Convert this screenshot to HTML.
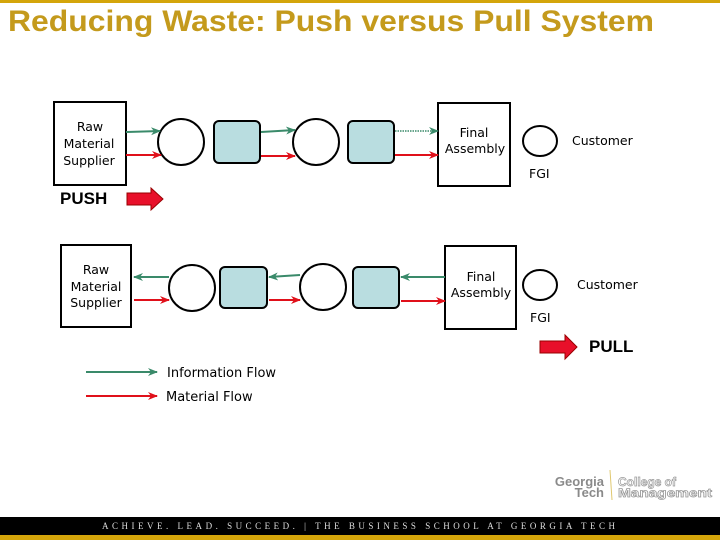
<!DOCTYPE html>
<html><head><meta charset="utf-8"><style>
html,body{margin:0;padding:0;width:720px;height:540px;overflow:hidden;background:#fff}
svg{display:block}
</style></head><body>
<svg width="720" height="540" viewBox="0 0 720 540" xmlns="http://www.w3.org/2000/svg" font-family="Verdana, 'DejaVu Sans', sans-serif">
<defs>
<marker id="g" markerWidth="10" markerHeight="8" refX="9" refY="4" orient="auto" markerUnits="userSpaceOnUse"><path d="M0,0 L10,4 L0,8 L3,4 Z" fill="#3a8a6a"/></marker>
<marker id="r" markerWidth="10" markerHeight="8" refX="9" refY="4" orient="auto" markerUnits="userSpaceOnUse"><path d="M0,0 L10,4 L0,8 L3,4 Z" fill="#e0101a"/></marker>
</defs>
<rect x="0" y="0" width="720" height="3" fill="#d4a50a"/>
<text x="8" y="31" font-family="'Liberation Sans',Arial,sans-serif" font-weight="bold" font-size="30" fill="#c49a1c" textLength="646" lengthAdjust="spacingAndGlyphs">Reducing Waste: Push versus Pull System</text>

<!-- PUSH row -->
<rect x="54" y="102" width="72" height="83" fill="#fff" stroke="#000" stroke-width="2"/>
<text font-size="12.5" text-anchor="middle"><tspan x="90" y="131">Raw</tspan><tspan x="89" y="148">Material</tspan><tspan x="89" y="165">Supplier</tspan></text>
<circle cx="181" cy="142" r="23" fill="#fff" stroke="#000" stroke-width="2"/>
<rect x="214" y="121" width="46" height="42" rx="5" fill="#b9dde0" stroke="#000" stroke-width="2"/>
<circle cx="316" cy="142" r="23" fill="#fff" stroke="#000" stroke-width="2"/>
<rect x="348" y="121" width="46" height="42" rx="5" fill="#b9dde0" stroke="#000" stroke-width="2"/>
<rect x="438" y="103" width="72" height="83" fill="#fff" stroke="#000" stroke-width="2"/>
<text font-size="12.5" text-anchor="middle"><tspan x="474" y="137">Final</tspan><tspan x="475" y="153">Assembly</tspan></text>
<ellipse cx="540" cy="141" rx="17" ry="15" fill="#fff" stroke="#000" stroke-width="2"/>
<text x="572" y="145" font-size="12.5">Customer</text>
<text x="529" y="178" font-size="12.5">FGI</text>
<line x1="126" y1="132" x2="160" y2="131" stroke="#3a8a6a" stroke-width="2" marker-end="url(#g)"/>
<line x1="126" y1="155" x2="161" y2="155" stroke="#e0101a" stroke-width="2" marker-end="url(#r)"/>
<line x1="261" y1="132" x2="295" y2="130" stroke="#3a8a6a" stroke-width="2" marker-end="url(#g)"/>
<line x1="261" y1="156" x2="295" y2="156" stroke="#e0101a" stroke-width="2" marker-end="url(#r)"/>
<line x1="395" y1="131" x2="438" y2="131" stroke="#3a8a6a" stroke-width="1.5" stroke-dasharray="1.5,1" marker-end="url(#g)"/>
<line x1="395" y1="155" x2="438" y2="155" stroke="#e0101a" stroke-width="2" marker-end="url(#r)"/>
<text x="60" y="204" font-family="'Liberation Sans',Arial,sans-serif" font-weight="bold" font-size="17">PUSH</text>
<path d="M127,193 L151,193 L151,188 L163,199 L151,210 L151,205 L127,205 Z" fill="#e8102a" stroke="#900" stroke-width="1"/>

<!-- PULL row -->
<rect x="61" y="245" width="70" height="82" fill="#fff" stroke="#000" stroke-width="2"/>
<text font-size="12.5" text-anchor="middle"><tspan x="96" y="274">Raw</tspan><tspan x="96" y="291">Material</tspan><tspan x="96" y="307">Supplier</tspan></text>
<circle cx="192" cy="288" r="23" fill="#fff" stroke="#000" stroke-width="2"/>
<rect x="220" y="267" width="47" height="41" rx="5" fill="#b9dde0" stroke="#000" stroke-width="2"/>
<circle cx="323" cy="287" r="23" fill="#fff" stroke="#000" stroke-width="2"/>
<rect x="353" y="267" width="46" height="41" rx="5" fill="#b9dde0" stroke="#000" stroke-width="2"/>
<rect x="445" y="246" width="71" height="83" fill="#fff" stroke="#000" stroke-width="2"/>
<text font-size="12.5" text-anchor="middle"><tspan x="481" y="281">Final</tspan><tspan x="481" y="297">Assembly</tspan></text>
<ellipse cx="540" cy="285" rx="17" ry="15" fill="#fff" stroke="#000" stroke-width="2"/>
<text x="577" y="289" font-size="12.5">Customer</text>
<text x="530" y="322" font-size="12.5">FGI</text>
<line x1="169" y1="277" x2="134" y2="277" stroke="#3a8a6a" stroke-width="2" marker-end="url(#g)"/>
<line x1="134" y1="300" x2="169" y2="300" stroke="#e0101a" stroke-width="2" marker-end="url(#r)"/>
<line x1="300" y1="275" x2="269" y2="277" stroke="#3a8a6a" stroke-width="2" marker-end="url(#g)"/>
<line x1="269" y1="300" x2="300" y2="300" stroke="#e0101a" stroke-width="2" marker-end="url(#r)"/>
<line x1="445" y1="277" x2="401" y2="277" stroke="#3a8a6a" stroke-width="2" marker-end="url(#g)"/>
<line x1="401" y1="301" x2="445" y2="301" stroke="#e0101a" stroke-width="2" marker-end="url(#r)"/>
<path d="M540,341 L565,341 L565,335 L577,347 L565,359 L565,353 L540,353 Z" fill="#e8102a" stroke="#900" stroke-width="1"/>
<text x="589" y="352" font-family="'Liberation Sans',Arial,sans-serif" font-weight="bold" font-size="17">PULL</text>

<!-- legend -->
<line x1="86" y1="372" x2="157" y2="372" stroke="#3a8a6a" stroke-width="2" marker-end="url(#g)"/>
<text x="167" y="377" font-size="13">Information Flow</text>
<line x1="86" y1="396" x2="157" y2="396" stroke="#e0101a" stroke-width="2" marker-end="url(#r)"/>
<text x="166" y="401" font-size="13">Material Flow</text>

<!-- logo -->
<text x="604" y="486" font-family="'Liberation Sans',Arial,sans-serif" font-weight="bold" font-size="13" fill="#8a8a8a" text-anchor="end">Georgia</text>
<text x="604" y="497" font-family="'Liberation Sans',Arial,sans-serif" font-weight="bold" font-size="13" fill="#8a8a8a" text-anchor="end">Tech</text>
<line x1="610" y1="470" x2="612" y2="500" stroke="#e0c870" stroke-width="1"/>
<text x="618" y="486" font-family="'Liberation Sans',Arial,sans-serif" font-weight="bold" font-size="12" fill="#fff" stroke="#999" stroke-width="0.7">College of</text>
<text x="618" y="497" font-family="'Liberation Sans',Arial,sans-serif" font-weight="bold" font-size="12" fill="#fff" stroke="#999" stroke-width="0.7" textLength="94" lengthAdjust="spacingAndGlyphs">Management</text>

<rect x="0" y="517" width="720" height="18" fill="#000"/>
<rect x="0" y="535" width="720" height="5" fill="#d4a50a"/>
<text x="102" y="529" font-family="'Liberation Serif',serif" font-size="9" fill="#ddd" textLength="515" letter-spacing="2">ACHIEVE. LEAD. SUCCEED.  |  THE BUSINESS SCHOOL AT GEORGIA TECH</text>
</svg>
</body></html>
